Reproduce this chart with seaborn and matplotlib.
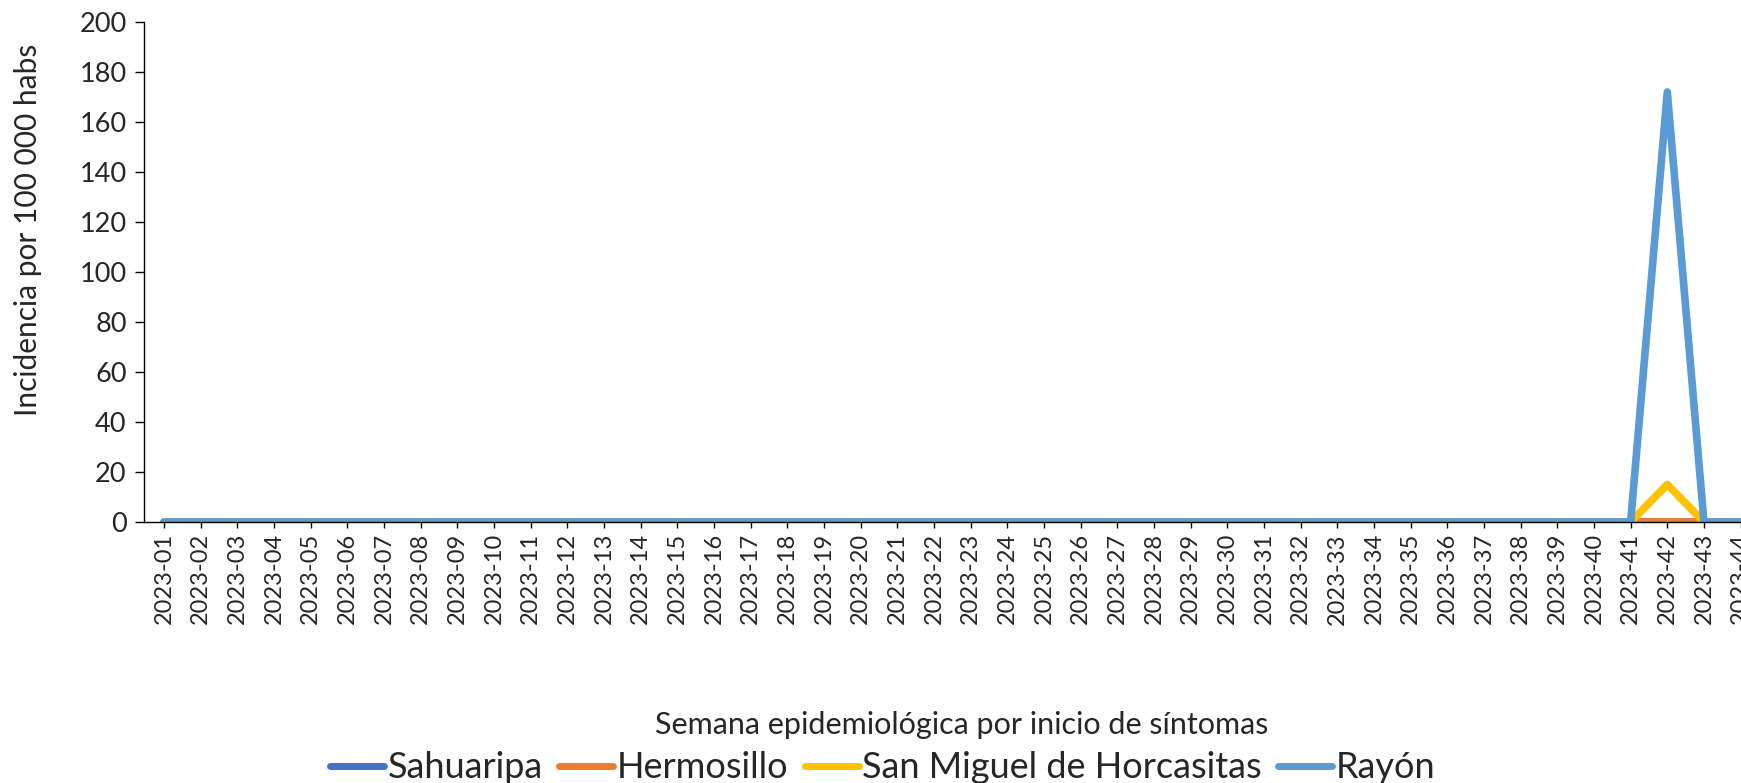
import numpy as np
import pandas as pd
import matplotlib
matplotlib.use("Agg")
import matplotlib.pyplot as plt
import seaborn as sns

# Data (weekly incidence per 100 000 inhabitants)
weeks = [f"2023-{i:02d}" for i in range(1, 45)]
sahuaripa = [0.0] * 44
hermosillo = [0.0] * 44
san_miguel = [0.0] * 40 + [0.0, 15.0, 0.0, 0.0]
rayon = [0.0] * 40 + [0.0, 172.0, 0.0, 0.0]

series_names = ["Sahuaripa", "Hermosillo", "San Miguel de Horcasitas", "Rayón"]
series_values = [sahuaripa, hermosillo, san_miguel, rayon]
colors = ["#4472C4", "#ED7D31", "#FFC000", "#5B9BD5"]

rows = []
for name, vals in zip(series_names, series_values):
    for i, (w, v) in enumerate(zip(weeks, vals)):
        rows.append({"idx": i, "semana": w, "serie": name, "valor": v})
df = pd.DataFrame(rows)

sns.set_style("white")
plt.rcParams["font.family"] = ["Lato", "DejaVu Sans"]

fig = plt.figure(figsize=(17.41, 7.83), dpi=100)
ax = fig.add_axes([144 / 1741, 261 / 783, 1 - 144 / 1741, (522 - 22) / 783])

sns.lineplot(data=df, x="idx", y="valor", hue="serie", hue_order=series_names,
             palette=colors, linewidth=5.5, ax=ax, legend=True,
             solid_capstyle="round", solid_joinstyle="round")

ax.set_xticks(range(len(weeks)))
ax.set_xticklabels(weeks, rotation=90, fontsize=17)
ax.set_yticks(np.arange(0, 201, 20))
ax.set_xlim(-0.545, 43.01)
ax.set_ylim(0, 200)
ax.tick_params(axis="y", labelsize=19.5, length=6.5, width=1, direction="out", left=True, color="black", pad=6)
ax.tick_params(axis="x", length=4, width=1, direction="out", bottom=True, color="black", pad=4)

for side in ["top", "right"]:
    ax.spines[side].set_visible(False)
for side in ["left", "bottom"]:
    ax.spines[side].set_color("black")
    ax.spines[side].set_linewidth(1)

ax.set_xlabel("Semana epidemiológica por inicio de síntomas", fontsize=22)
ax.set_ylabel("Incidencia por 100 000 habs", fontsize=21.5)
ax.yaxis.set_label_coords(-0.064, 0.584)
ax.xaxis.set_label_coords(0.512, -0.378)

handles, labels = ax.get_legend_handles_labels()
ax.legend(handles, labels, loc="center", bbox_to_anchor=(0.507, 15 / 783),
          bbox_transform=fig.transFigure, ncol=4, frameon=False, fontsize=26,
          handlelength=1.5, handletextpad=0.1, columnspacing=0.45)
for line in ax.get_legend().get_lines():
    line.set_linewidth(5)

fig.savefig("out.png", dpi=100)
